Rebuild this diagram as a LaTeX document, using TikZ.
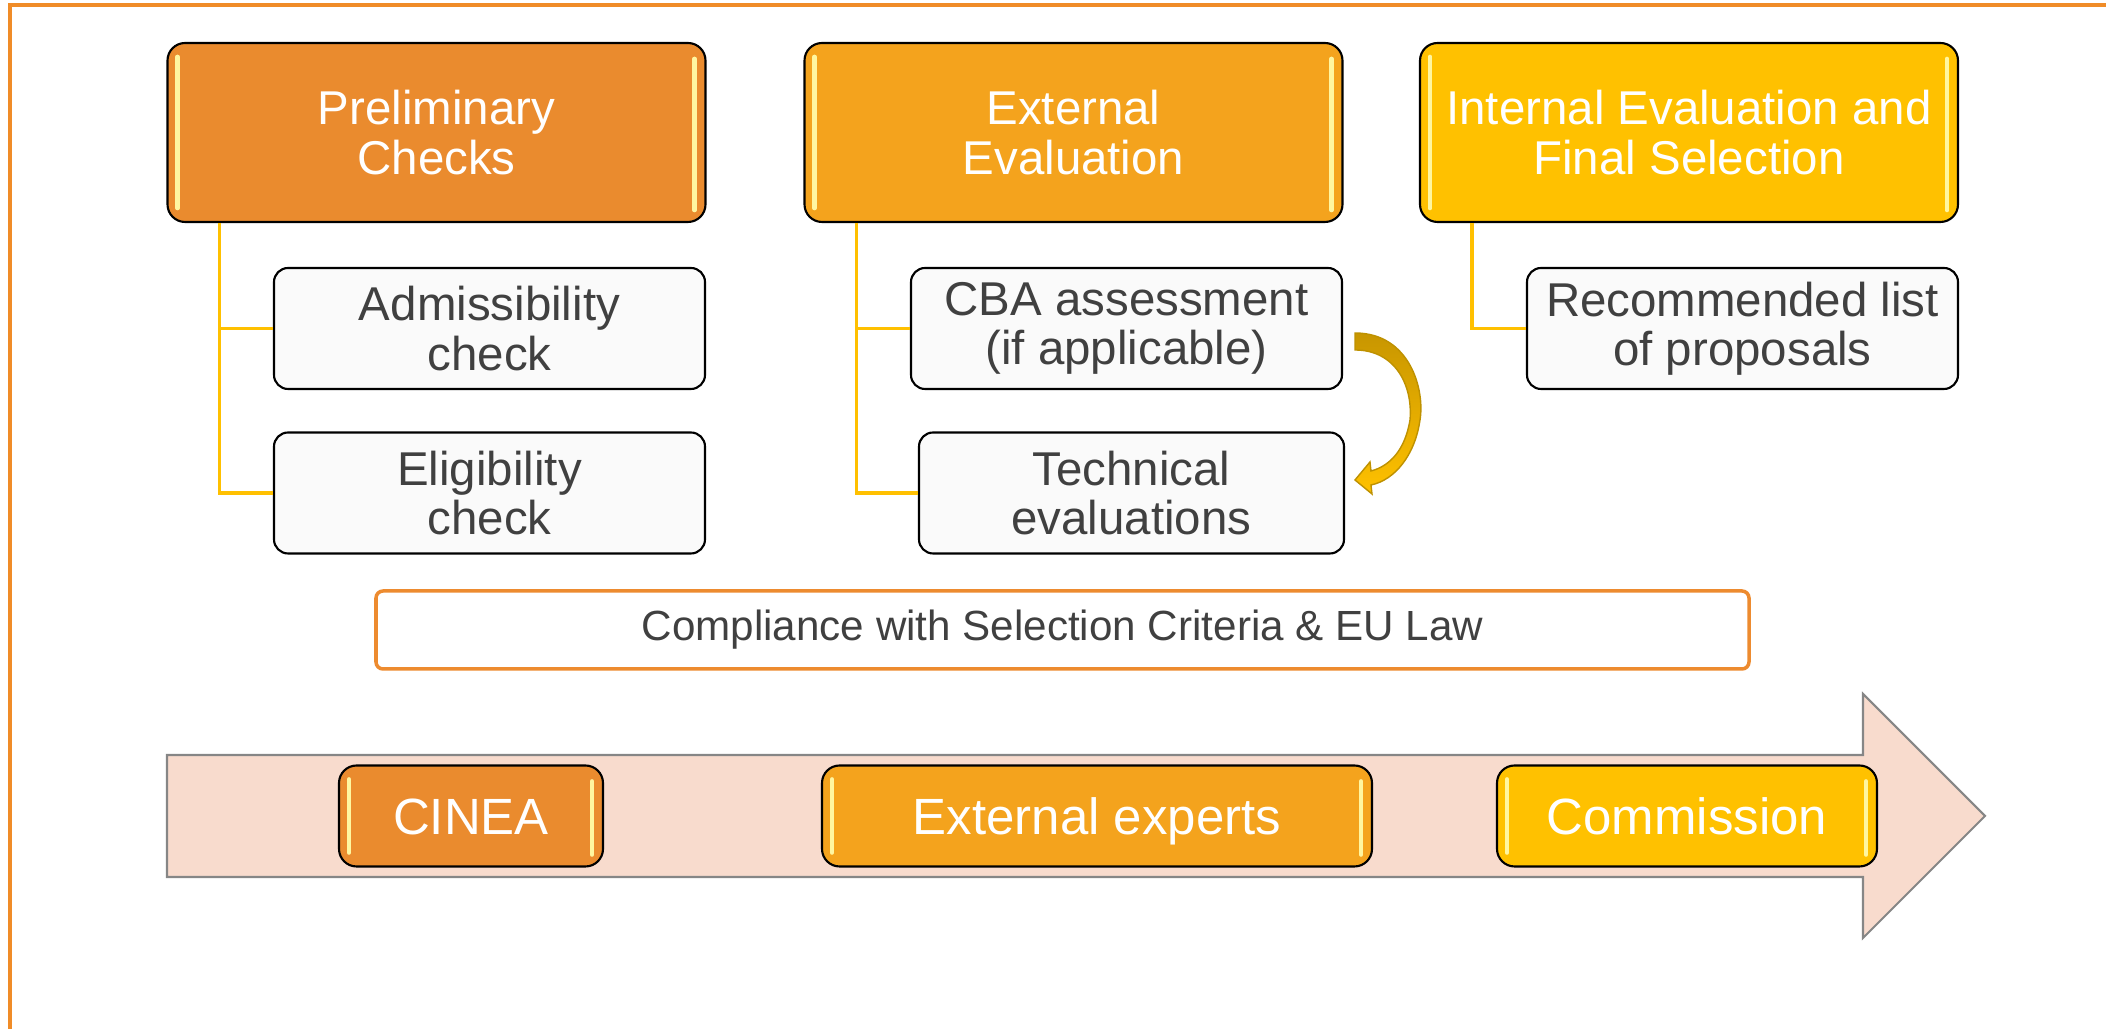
\documentclass[tikz,border=0pt]{standalone}
\usepackage{fontspec}
\setmainfont{Liberation Sans}
\usetikzlibrary{shapes,arrows,positioning,calc}

\begin{document}
\begin{tikzpicture}[every node/.style={font=\fontsize{13.5}{14}\selectfont, align=center, inner sep=0pt},
        phasebox/.style={draw=black, line width=0.6pt, rounded corners=5pt, minimum width=5.38cm, minimum height=1.79cm, text=white},
        taskbox/.style={draw=black, line width=0.6pt, fill=boxwhite, rounded corners=4pt, minimum width=4.31cm, minimum height=1.21cm, text=textgray},
        actorbox/.style={draw=black, line width=0.6pt, rounded corners=5pt, minimum height=1.01cm, text=white, font=\fontsize{14.5}{16}\selectfont, text height=10.4pt, text depth=0pt},
        branch/.style={draw=branchgold, line width=0.9pt},
        glint/.style={draw=glintyellow, line width=1.3pt, line cap=round}]
        \definecolor{prelimorange}{RGB}{234,139,46}
        \definecolor{extorange}{RGB}{244,163,29}
        \definecolor{intgold}{RGB}{255,193,0}
        \definecolor{textgray}{RGB}{64,64,64}
        \definecolor{boxwhite}{RGB}{250,250,250}
        \definecolor{branchgold}{RGB}{255,192,0}
        \definecolor{glintyellow}{RGB}{255,246,160}
        \definecolor{frameorange}{RGB}{240,140,40}
        \definecolor{peach}{RGB}{248,219,205}

        \useasboundingbox (0,0) rectangle (21.06,-10.29);

        % Frame - top and left edges only
        \draw[frameorange, line width=1pt] (0.10,-10.29) -- (0.10,-0.05) -- (21.06,-0.05);

        % Timeline arrow behind the actors
        \draw[fill=peach, draw=gray!95, line width=0.6pt] (1.67,-7.55) -- (18.63,-7.55) -- (18.63,-6.94) -- (19.85,-8.16) -- (18.63,-9.38) -- (18.63,-8.77) -- (1.67,-8.77) -- cycle;

        % Actors
        \node[actorbox, fill=prelimorange, minimum width=2.64cm] (cinea) at (4.71,-8.16) {CINEA};
        \node[actorbox, fill=extorange, minimum width=5.50cm] (experts) at (10.97,-8.16) {External experts};
        \node[actorbox, fill=intgold, minimum width=3.80cm] (commission) at (16.87,-8.16) {Commission};

        % Evaluation phases
        \node[phasebox, fill=prelimorange] (prelim) at (4.365,-1.325) {Preliminary\\Checks};
        \node[phasebox, fill=extorange] (exteval) at (10.735,-1.325) {External\\Evaluation};
        \node[phasebox, fill=intgold] (inteval) at (16.89,-1.325) {Internal Evaluation and\\Final Selection};

        % Highlights on the coloured boxes
        \foreach \n in {prelim,exteval,inteval,cinea,experts,commission} {
            \draw[glint] ($(\n.north west)+(0.11,-0.15)$) -- ($(\n.south west)+(0.11,0.15)$);
            \draw[glint] ($(\n.north east)+(-0.12,-0.17)$) -- ($(\n.south east)+(-0.12,0.13)$);
        }

        % Steps of each phase
        \node[taskbox] (admiss) at (4.895,-3.285) {Admissibility\\check};
        \node[taskbox] (elig) at (4.895,-4.93) {Eligibility\\check};
        \node[taskbox, minimum width=4.31cm] (cba) at (11.265,-3.285) {CBA assessment\\(if applicable)};
        \node[taskbox, minimum width=4.25cm] (techeval) at (11.315,-4.93) {Technical\\evaluations};
        \node[taskbox] (reclist) at (17.425,-3.285) {Recommended list\\of proposals};

        % Branches
        \draw[branch] ([xshift=0.53cm]prelim.south west) |- (admiss.west);
        \draw[branch] ([xshift=0.53cm]prelim.south west) |- (elig.west);
        \draw[branch] ([xshift=0.53cm]exteval.south west) |- (cba.west);
        \draw[branch] ([xshift=0.53cm]exteval.south west) |- (techeval.west);
        \draw[branch] ([xshift=0.53cm]inteval.south west) |- (reclist.west);

        % Curved arrow from CBA to technical evaluations
        \shadedraw[top color={rgb,255:red,200;green,150;blue,0}, bottom color=intgold, draw={rgb,255:red,190;green,145;blue,0}, line width=0.4pt]
            (13.55,-3.33) .. controls (14.10,-3.33) and (14.25,-3.90) .. (14.20,-4.20)
            .. controls (14.15,-4.55) and (13.95,-4.80) .. (13.71,-4.85)
            -- (13.72,-4.94) -- (13.55,-4.80) -- (13.70,-4.62) -- (13.71,-4.71)
            .. controls (13.90,-4.66) and (14.05,-4.50) .. (14.10,-4.20)
            .. controls (14.13,-3.85) and (13.95,-3.50) .. (13.55,-3.50) -- cycle;

        % Compliance banner
        \node[draw={rgb,255:red,237;green,139;blue,47}, line width=1pt, rounded corners=2pt, minimum width=13.73cm, minimum height=0.78cm, text=textgray, font=\fontsize{12}{14}\selectfont] (comply) at (10.625,-6.30) {Compliance with Selection Criteria \& EU Law};
    \end{tikzpicture}
\end{document}
